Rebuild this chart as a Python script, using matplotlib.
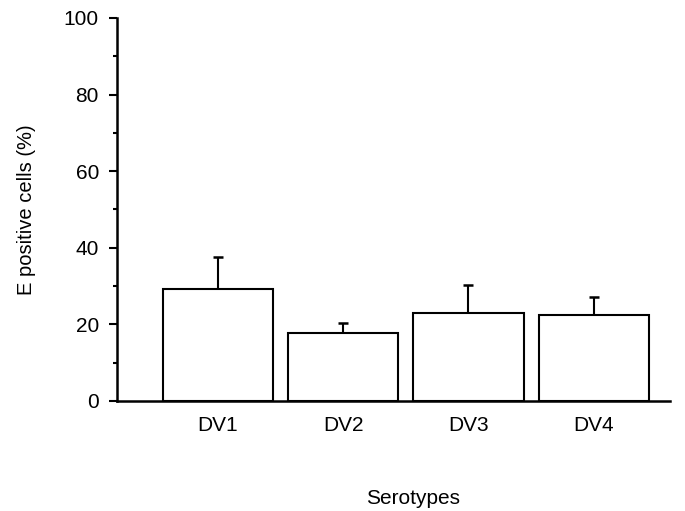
import matplotlib
matplotlib.use("Agg")
import matplotlib.pyplot as plt
from matplotlib.ticker import MultipleLocator

plt.rcParams['font.family'] = ['Liberation Sans', 'DejaVu Sans']

serotypes = ["DV1", "DV2", "DV3", "DV4"]
means = [29.2, 17.8, 23.0, 22.4]
sd_upper = [8.5, 2.6, 7.4, 4.8]

fig = plt.figure(figsize=(6.85, 5.11), dpi=100)
ax = fig.add_axes([0.1708, 0.2153, 0.807, 0.7495])

x = list(range(len(serotypes)))
ax.bar(x, means, width=0.88, color="white", edgecolor="black", linewidth=1.5, zorder=2)
ax.errorbar(x, means, yerr=[[0] * len(means), sd_upper], fmt="none",
            ecolor="black", elinewidth=1.5, capsize=3.5, capthick=1.8, zorder=1)

ax.set_xlim(-0.806, 3.607)
ax.set_ylim(0, 100)
ax.yaxis.set_major_locator(MultipleLocator(20))
ax.yaxis.set_minor_locator(MultipleLocator(10))
ax.set_xticks(x)
ax.set_xticklabels(serotypes)
ax.tick_params(axis="x", length=0, pad=10.5, labelsize=15)
ax.tick_params(axis="y", which="major", direction="out", length=6, width=1.5, labelsize=15, pad=7)
ax.tick_params(axis="y", which="minor", direction="out", length=3, width=1.5)

for s in ["top", "right"]:
    ax.spines[s].set_visible(False)
for s in ["left", "bottom"]:
    ax.spines[s].set_linewidth(1.8)

ax.set_ylabel("E positive cells (%)", fontsize=14.5, labelpad=20)
fig.text(413 / 685, 1 - 498 / 511, "Serotypes", ha="center", va="center", fontsize=15)

fig.savefig("out.png", dpi=100)
